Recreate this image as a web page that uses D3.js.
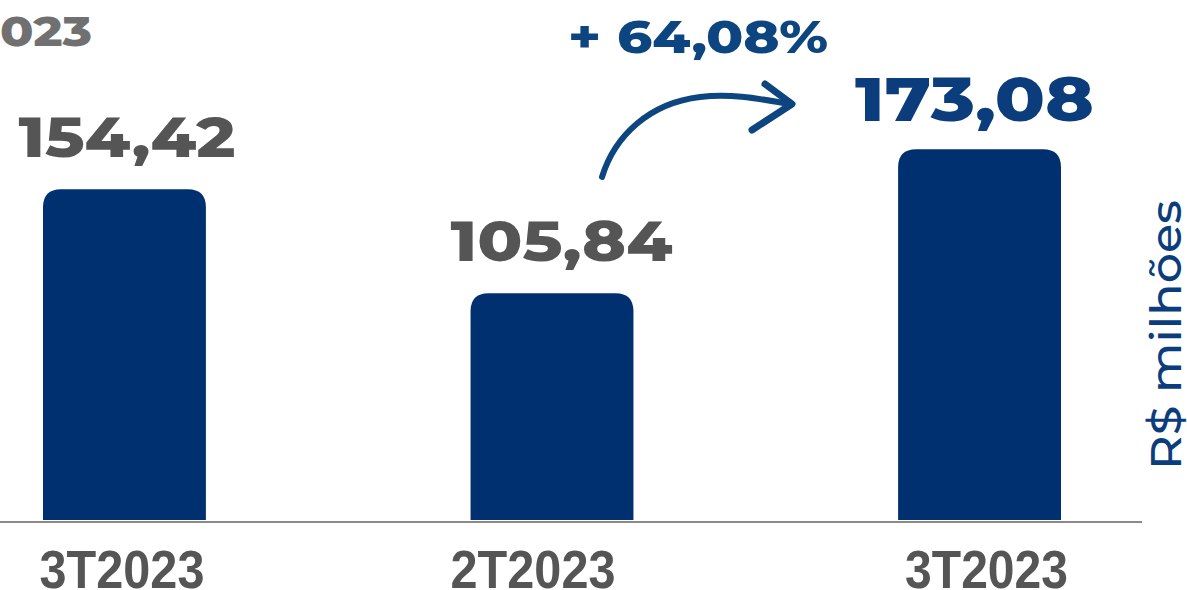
<!DOCTYPE html>
<html><head><meta charset="utf-8">
<script src="https://cdn.jsdelivr.net/npm/d3@7"></script>
<style>html,body{margin:0;padding:0;background:#fff;overflow:hidden}</style>
</head><body>
<svg id="c" width="1187" height="590"></svg>
<script>
const categories = ["3T2023", "2T2023", "3T2023"];
const values = [154.42, 105.84, 173.08];
const valueLabels = ["154,42", "105,84", "173,08"];
const changeLabel = "+ 64,08%";
const unitLabel = "R$ milhões";
const titleFragment = "023";

const svg = d3.select("#c");
const idx = d3.range(categories.length);

const x = d3.scaleBand().domain(idx).range([0.25, 1103.75]).paddingInner(0.619).paddingOuter(0.1);
const y = d3.scaleLinear().domain([0, 100]).range([520, 305.8]);

const barColor = "#00306f";
const grey = "#555555";
const blue = "#0b3d7d";
const r = 18;

// bars with rounded top corners
svg.selectAll("path.bar").data(idx).join("path").attr("class","bar")
  .attr("fill", barColor)
  .attr("d", i => {
    const x0 = x(i), x1 = x(i) + x.bandwidth(), yt = y(values[i]), yb = y(0);
    return `M${x0},${yb}L${x0},${yt + r}Q${x0},${yt} ${x0 + r},${yt}L${x1 - r},${yt}Q${x1},${yt} ${x1},${yt + r}L${x1},${yb}Z`;
  });

// axis line
const ax = svg.append("g").attr("transform", `translate(0,${y(0) + 2})`)
  .call(d3.axisBottom(x).tickSize(0).tickFormat(() => ""));
ax.select(".domain").attr("stroke", "#8a8a8a").attr("stroke-width", 2).attr("d", "M0,0H1142");

// category labels
const labelOffsets = [-2.5, -19, 7];
const labelWidths = [165, 165, 163];
svg.selectAll("text.cat").data(idx).join("text").attr("class","cat")
  .attr("x", i => x(i) + x.bandwidth() / 2 + labelOffsets[i])
  .attr("y", 588)
  .attr("text-anchor", "middle")
  .attr("font-family", "'Liberation Sans Narrow', 'Liberation Sans', Arial, sans-serif")
  .attr("font-weight", 700)
  .attr("font-size", 54)
  .attr("fill", grey)
  .attr("textLength", i => labelWidths[i])
  .attr("lengthAdjust", "spacingAndGlyphs")
  .text(i => categories[i]);

// value labels
const valOffsets = [2.5, 9.5, -5];
const valWidths = [217, 222, 239];
const valSizes = [56, 56, 62];
svg.selectAll("text.val").data(idx).join("text").attr("class","val")
  .attr("x", i => x(i) + x.bandwidth() / 2 + valOffsets[i])
  .attr("y", i => y(values[i]) - (i === 2 ? 28 : 32))
  .attr("text-anchor", "middle")
  .attr("font-family", "Montserrat, 'Open Sans', sans-serif")
  .attr("font-weight", 800)
  .attr("font-size", i => valSizes[i])
  .attr("fill", i => i === 2 ? blue : grey)
  .attr("textLength", i => valWidths[i])
  .attr("lengthAdjust", "spacingAndGlyphs")
  .text(i => valueLabels[i]);

// change label
svg.append("text")
  .attr("x", 568).attr("y", 53)
  .attr("font-family", "Montserrat, 'Open Sans', sans-serif")
  .attr("font-weight", 800).attr("font-size", 46)
  .attr("fill", "#0d4580")
  .attr("textLength", 260).attr("lengthAdjust", "spacingAndGlyphs")
  .text(changeLabel);

// arrow
const arrowColor = "#0d4580";
svg.append("path")
  .attr("d", "M602,177 C615,135 650,103 700,97 C735,93 765,100 790,104")
  .attr("fill", "none").attr("stroke", arrowColor).attr("stroke-width", 6).attr("stroke-linecap", "round");
svg.append("path")
  .attr("d", "M765,84 L792,104 L752,130")
  .attr("fill", "none").attr("stroke", arrowColor).attr("stroke-width", 7)
  .attr("stroke-linecap", "round").attr("stroke-linejoin", "round");

// title fragment
svg.append("text")
  .attr("x", 0).attr("y", 46)
  .attr("font-family", "Montserrat, 'Open Sans', sans-serif")
  .attr("font-weight", 800).attr("font-size", 42)
  .attr("fill", "#707070")
  .attr("textLength", 92).attr("lengthAdjust", "spacingAndGlyphs")
  .text(titleFragment);

// unit label
svg.append("text")
  .attr("transform", "translate(1181,335) rotate(-90)")
  .attr("text-anchor", "middle")
  .attr("font-family", "Montserrat, 'Open Sans', sans-serif")
  .attr("font-weight", 500).attr("font-size", 42)
  .attr("fill", blue)
  .attr("textLength", 270).attr("lengthAdjust", "spacingAndGlyphs")
  .text(unitLabel);
</script>
</body></html>
